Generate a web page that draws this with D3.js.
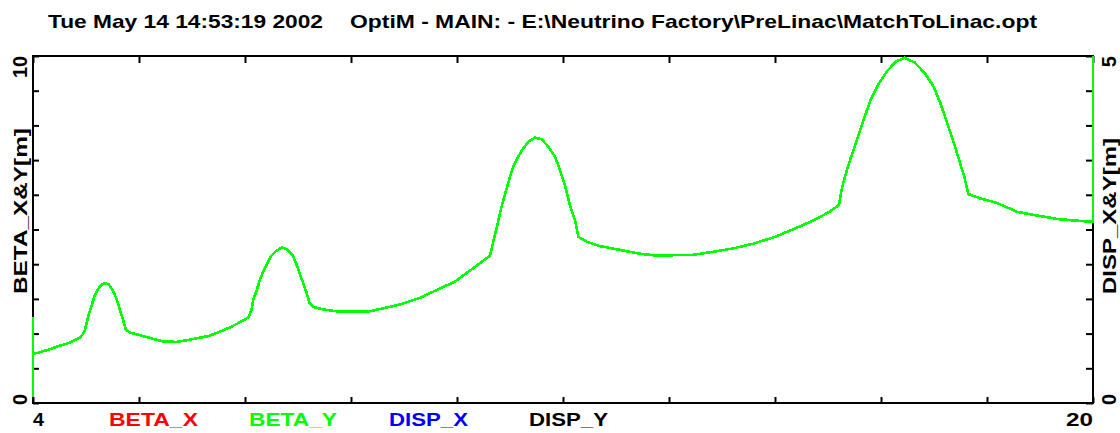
<!DOCTYPE html>
<html>
<head>
<meta charset="utf-8">
<script src="https://cdn.jsdelivr.net/npm/d3@7"></script>
<style>
  html, body { margin: 0; padding: 0; background: #fff; }
  svg { display: block; }
  text { font-family: "Liberation Sans", Arial, sans-serif; font-weight: bold; }
</style>
</head>
<body>
<svg id="chart" width="1120" height="433"></svg>
<script>
// Lattice position s [m] along the line and beta function [m]
const sPos = [
  4, 4, 4, 4.116, 4.251, 4.386, 4.494, 4.602, 4.709, 4.764, 4.791, 4.815, 4.844, 4.881,
  4.925, 4.980, 5.032, 5.076, 5.141, 5.192, 5.248, 5.292, 5.328, 5.368, 5.399, 5.464,
  5.570, 5.734, 5.947, 6.165, 6.355, 6.515, 6.651, 6.812, 6.974, 7.135, 7.254, 7.297,
  7.324, 7.378, 7.432, 7.485, 7.540, 7.592, 7.674, 7.755, 7.834, 7.917, 7.970, 8.024,
  8.078, 8.133, 8.175, 8.241, 8.376, 8.589, 9.076, 9.292, 9.561, 9.831, 10.098, 10.370,
  10.640, 10.898, 10.948, 10.999, 11.049, 11.099, 11.150, 11.200, 11.250, 11.325, 11.401,
  11.476, 11.577, 11.678, 11.778, 11.879, 11.955, 12.030, 12.106, 12.181, 12.231, 12.358,
  12.559, 12.811, 13.132, 13.396, 13.962, 14.272, 14.581, 14.890, 15.200, 15.457, 15.766,
  16.023, 16.166, 16.204, 16.255, 16.332, 16.435, 16.537, 16.642, 16.770, 16.898, 17.026,
  17.156, 17.310, 17.464, 17.594, 17.697, 17.799, 17.902, 17.980, 18.057, 18.119, 18.290,
  18.546, 18.853, 19.165, 19.472, 19.783, 20, 20
];
const betaY = [
  0.18, 2.47, 1.41, 1.47, 1.55, 1.64, 1.70, 1.78, 1.89, 2.01, 2.15, 2.34, 2.58, 2.78,
  3.06, 3.28, 3.40, 3.45, 3.42, 3.28, 3.06, 2.82, 2.58, 2.34, 2.12, 2.03,
  1.98, 1.89, 1.78, 1.76, 1.82, 1.88, 1.93, 2.05, 2.18, 2.34, 2.47, 2.68,
  2.97, 3.26, 3.59, 3.83, 4.03, 4.24, 4.39, 4.48, 4.43, 4.27, 4.03, 3.74,
  3.45, 3.16, 2.87, 2.76, 2.70, 2.64, 2.64, 2.73, 2.85, 3.02, 3.26, 3.50,
  3.88, 4.25, 4.65, 5.05, 5.47, 5.85, 6.19, 6.52, 6.81, 7.10, 7.34,
  7.53, 7.65, 7.60, 7.39, 7.10, 6.71, 6.28, 5.70, 5.27, 4.79, 4.65,
  4.52, 4.43, 4.31, 4.25, 4.27, 4.36, 4.46, 4.60, 4.79, 4.99, 5.25,
  5.51, 5.71, 6.14, 6.52, 7.00, 7.58, 8.16, 8.73, 9.21, 9.58, 9.84,
  9.95, 9.81, 9.50, 9.12, 8.64, 8.06, 7.48, 7.00, 6.52, 6.02, 5.90,
  5.77, 5.51, 5.40, 5.30, 5.25, 5.22, 10
];

// Axis ranges and tick labels
const xDomain = [4, 20];
const betaDomain = [0, 10];
const dispDomain = [0, 5];
const xTickLabels = ["4", "20"];
const betaTickLabels = ["0", "10"];
const dispTickLabels = ["0", "5"];

const legendNames = ["BETA_X", "BETA_Y", "DISP_X", "DISP_Y"];
const legendColors = ["#ff0000", "#00ff00", "#0000ff", "#000000"];

const titleDate = "Tue May 14 14:53:19 2002";
const titleFile = "OptiM - MAIN: - E:\\Neutrino Factory\\PreLinac\\MatchToLinac.opt";

// ---- layout ----
const L = 33, R = 1093, T = 56, B = 403;
const svg = d3.select("#chart");

const x = d3.scaleLinear().domain(xDomain).range([L, R]);
const yB = d3.scaleLinear().domain(betaDomain).range([B, T]);
const yD = d3.scaleLinear().domain(dispDomain).range([B, T]);

const xTicks = d3.range(11).map(i => xDomain[0] + i * (xDomain[1] - xDomain[0]) / 10);
const bTicks = d3.range(11).map(i => i * betaDomain[1] / 10);
const dTicks = d3.range(11).map(i => i * dispDomain[1] / 10);

function styleAxis(g) {
  g.select(".domain").remove();
  g.selectAll(".tick line").attr("stroke", "#000").attr("stroke-width", 2);
  g.selectAll(".tick text").remove();
}

svg.append("g").attr("transform", `translate(0,${B})`)
  .call(d3.axisBottom(x).tickValues(xTicks).tickSizeInner(-6).tickSizeOuter(0))
  .call(styleAxis);
svg.append("g").attr("transform", `translate(0,${T})`)
  .call(d3.axisTop(x).tickValues(xTicks).tickSizeInner(-7).tickSizeOuter(0))
  .call(styleAxis);
svg.append("g").attr("transform", `translate(${L},0)`)
  .call(d3.axisLeft(yB).tickValues(bTicks).tickSizeInner(-6).tickSizeOuter(0))
  .call(styleAxis);
svg.append("g").attr("transform", `translate(${R},0)`)
  .call(d3.axisRight(yD).tickValues(dTicks).tickSizeInner(-7).tickSizeOuter(0))
  .call(styleAxis);

// plot frame
svg.append("rect")
  .attr("x", L).attr("y", T).attr("width", R - L).attr("height", B - T)
  .attr("fill", "none").attr("stroke", "#000").attr("stroke-width", 2);

// beta function curve, drawn aliased like a plotter trace
const pts = sPos.map((s, i) => [s, betaY[i]]);
svg.append("path")
  .datum(pts)
  .attr("fill", "none")
  .attr("stroke", legendColors[1])
  .attr("stroke-width", 2.6)
  .attr("shape-rendering", "crispEdges")
  .attr("d", d3.line().x(d => x(d[0])).y(d => yB(d[1])));

// title
svg.append("text").attr("x", 48).attr("y", 28).attr("font-size", 19)
  .attr("textLength", 275).attr("lengthAdjust", "spacingAndGlyphs").text(titleDate);
svg.append("text").attr("x", 350).attr("y", 28).attr("font-size", 19)
  .attr("textLength", 687).attr("lengthAdjust", "spacingAndGlyphs").text(titleFile);

// x tick labels
svg.append("text").attr("x", x(xDomain[0])).attr("y", 426).attr("font-size", 19)
  .attr("textLength", 11).attr("lengthAdjust", "spacingAndGlyphs").text(xTickLabels[0]);
svg.append("text").attr("x", x(xDomain[1]) - 27).attr("y", 426).attr("font-size", 19)
  .attr("textLength", 27).attr("lengthAdjust", "spacingAndGlyphs").text(xTickLabels[1]);

// legend along the bottom
const legendX = [109, 249, 389, 529];
const legendW = [89, 88, 79, 79];
legendNames.forEach((n, i) => {
  svg.append("text").attr("x", legendX[i]).attr("y", 426).attr("font-size", 18.5)
    .attr("fill", legendColors[i])
    .attr("textLength", legendW[i]).attr("lengthAdjust", "spacingAndGlyphs")
    .text(n);
});

// rotated vertical labels
function vtext(px, py, str, anchor, size, len) {
  const t = svg.append("text")
    .attr("transform", `translate(${px},${py}) rotate(-90)`)
    .attr("font-size", size)
    .attr("text-anchor", anchor)
    .text(str);
  if (len) t.attr("textLength", len).attr("lengthAdjust", "spacingAndGlyphs");
  return t;
}
vtext(27, yB(betaDomain[0]) + 2, betaTickLabels[0], "start", 20);
vtext(27, yB(betaDomain[1]), betaTickLabels[1], "end", 20, 22);
vtext(27, 294, "BETA_X&Y[m]", "start", 17.5, 166);

vtext(1116, yD(dispDomain[0]) + 2, dispTickLabels[0], "start", 20);
vtext(1116, yD(dispDomain[1]), dispTickLabels[1], "end", 20);
vtext(1116, 294, "DISP_X&Y[m]", "start", 17.5, 156);
</script>
</body>
</html>
